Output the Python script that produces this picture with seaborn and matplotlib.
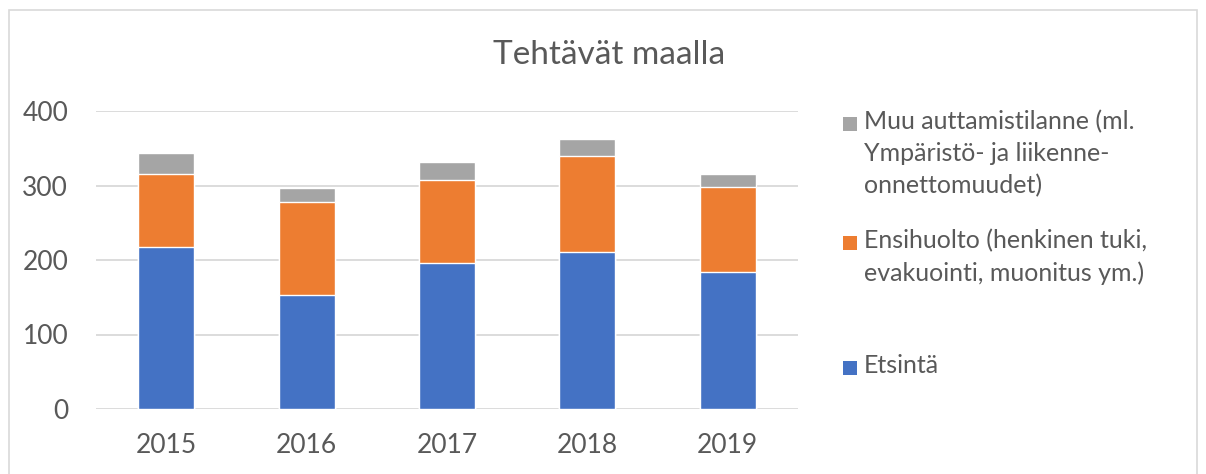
import numpy as np
import pandas as pd
import matplotlib
matplotlib.use("Agg")
import matplotlib.pyplot as plt
from matplotlib.patches import Rectangle
import seaborn as sns

# arvot luettu kuvasta
vuodet = ["2015", "2016", "2017", "2018", "2019"]
etsinta = [218, 153, 196, 211, 184]
ensihuolto = [97, 125, 111, 129, 114]
muu = [29, 18, 24, 22, 17]

sarjat = ["Etsintä",
          "Ensihuolto (henkinen tuki,\nevakuointi, muonitus ym.)",
          "Muu auttamistilanne (ml.\nYmpäristö- ja liikenne-\nonnettomuudet)"]
varit = ["#4472C4", "#ED7D31", "#A5A5A5"]

# kasautetut summat, piirretaan ylimmasta alimpaan
kertyma = np.cumsum([etsinta, ensihuolto, muu], axis=0)
df = pd.DataFrame({"vuosi": vuodet * 3,
                   "arvo": kertyma.flatten(),
                   "sarja": np.repeat(sarjat, len(vuodet))})

sns.set_style("white")
plt.rcParams["font.family"] = ["Lato", "DejaVu Sans"]
teksti = "#595959"

fig = plt.figure(figsize=(12.06, 4.74), dpi=100)
ax = fig.add_axes([96 / 1206, 65 / 474, 702 / 1206, 298 / 474])

for s, c in reversed(list(zip(sarjat, varit))):
    sns.barplot(data=df[df["sarja"] == s], x="vuosi", y="arvo", color=c,
                width=0.4, saturation=1, ax=ax, zorder=3)

ax.set_ylim(0, 400)
ax.set_xlim(-0.5, 4.5)
ax.set_yticks([0, 100, 200, 300, 400])
ax.yaxis.grid(True, color="#D9D9D9", linewidth=1.3, zorder=0)
ax.set_axisbelow(True)
for sp in ax.spines.values():
    sp.set_visible(False)
ax.set_xlabel("")
ax.set_ylabel("")
ax.tick_params(axis="y", length=0, pad=20, labelsize=19, labelcolor=teksti)
ax.tick_params(axis="x", length=0, pad=17, labelsize=19, labelcolor=teksti)

fig.text(609 / 1206, 1 - 55 / 474, "Tehtävät maalla", ha="center", va="center",
         fontsize=24, color=teksti)

# selite kasin, jotta merkki on ensimmaisen rivin kohdalla
selite_y = [124, 243, 368]
for s, c, yy in zip(reversed(sarjat), reversed(varit), selite_y):
    fig.patches.append(Rectangle((843 / 1206, 1 - (yy + 7) / 474), 14 / 1206, 14 / 474,
                                 transform=fig.transFigure, facecolor=c,
                                 edgecolor="none"))
    fig.text(864 / 1206, 1 - (yy - 14) / 474, s, ha="left", va="top",
             fontsize=18, color=teksti, linespacing=1.45)

# ulkoreunus
fig.patches.append(Rectangle((9 / 1206, -0.05), 1188 / 1206, 1.05 - 10 / 474,
                             transform=fig.transFigure, facecolor="none",
                             edgecolor="#D9D9D9", linewidth=1.2))

fig.savefig("out.png", dpi=100)
